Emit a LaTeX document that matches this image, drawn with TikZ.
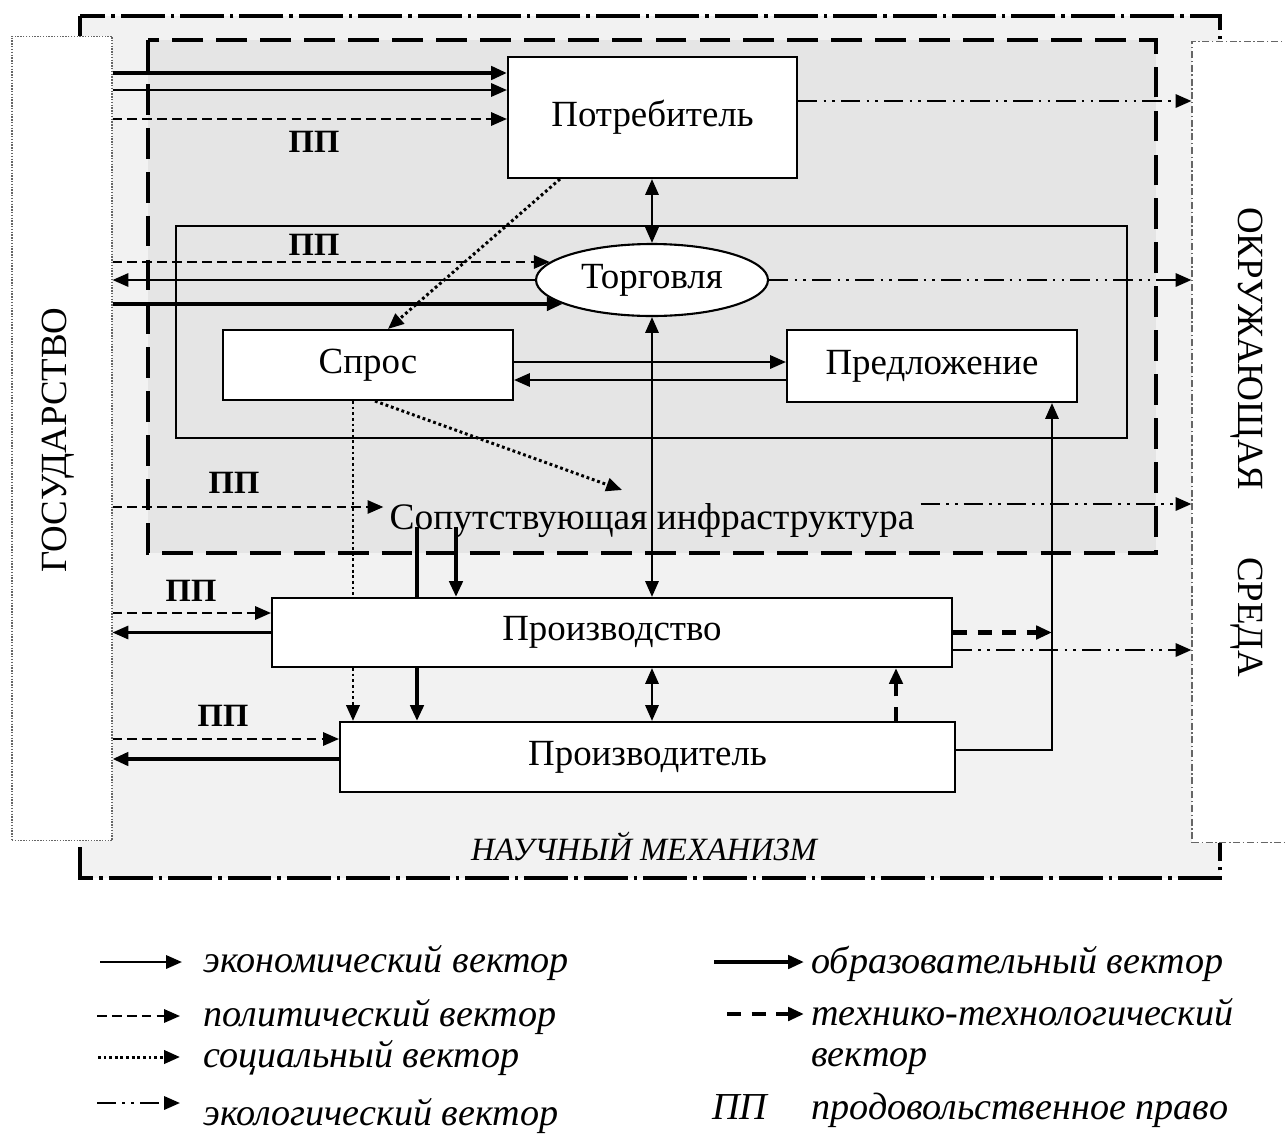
\documentclass[tikz,border=0pt]{standalone}
\usepackage{fontspec}
\setmainfont{Liberation Serif}
\usetikzlibrary{arrows.meta}
\usetikzlibrary{shapes.geometric}

\begin{document}
\begin{tikzpicture}[x=0.02cm,y=-0.02cm,>={Triangle[length=9pt,width=7.5pt]}]
	\tikzset{
		blok/.style={draw,line width=1.2pt,fill=white,font=\fontsize{21}{25}\selectfont},
		side/.style={draw=gray!80!black,line width=0.6pt,fill=white},
		pp/.style={font=\bfseries\fontsize{18.5}{22}\selectfont,inner sep=0pt},
		leg/.style={font=\itshape\fontsize{21.7}{26}\selectfont,inner sep=0pt},
		mech/.style={fill=black!5,line width=2.3pt,dash pattern=on 25pt off 3.4pt on 2pt off 3.4pt},
		zona/.style={fill=black!10,line width=2.3pt,dash pattern=on 17.5pt off 7.5pt},
		rynok/.style={fill=black!10,line width=1.2pt},
		econ/.style={line width=1.4pt},
		edu/.style={line width=2.2pt},
		polit/.style={line width=1.3pt,dash pattern=on 5.5pt off 3pt},
		soc/.style={line width=1.7pt,dash pattern=on 1.6pt off 1.6pt},
		eco/.style={line width=1.4pt,dash pattern=on 11pt off 3.5pt on 1.5pt off 3.5pt on 1.5pt off 3.5pt},
		tech/.style={line width=2.4pt,dash pattern=on 8pt off 6pt}
	}
	\useasboundingbox (0,0) rectangle (1285,1133);

	% области
	\draw[mech] (80,16) rectangle (1220,878);
	\draw[zona] (148,40) rectangle (1156,553);
	\draw[rynok] (176,226) rectangle (1127,438);
	\node[font=\itshape\fontsize{18.5}{22}\selectfont] (nauka) at (644,846) {НАУЧНЫЙ МЕХАНИЗМ};

	\node[side,dash pattern=on 0.8pt off 0.8pt,minimum width=2cm,minimum height=16.1cm] (gos) at (62,438.5) {};
	\node[rotate=90,font=\fontsize{21}{25}\selectfont] (gostext) at (58,440) {ГОСУДАРСТВО};
	\node[side,dash pattern=on 4pt off 1.5pt on 0.8pt off 1.5pt,minimum width=2.16cm,minimum height=16.04cm] (okr) at (1246,442) {};
	\node[rotate=-90,font=\fontsize{21}{25}\selectfont] (okrtext) at (1247,442) {ОКРУЖАЮЩАЯ\hspace{1.34cm}СРЕДА};

	% звенья
	\node[blok,minimum width=5.78cm,minimum height=2.42cm] (potr) at (652.5,117.5) {Потребитель};
	\node[blok,ellipse,inner sep=0pt,minimum width=4.64cm,minimum height=1.44cm] (torg) at (652,280) {Торговля};
	\node[blok,minimum width=5.8cm,minimum height=1.4cm] (spros) at (368,365) {Спрос};
	\node[blok,minimum width=5.8cm,minimum height=1.44cm] (predl) at (932,366) {Предложение};
	\node[font=\fontsize{21.3}{25}\selectfont,anchor=base] (infra) at (652,529) {Сопутствующая инфраструктура};
	\node[blok,minimum width=13.6cm,minimum height=1.38cm] (pvo) at (612,632.5) {Производство};
	\node[blok,minimum width=12.3cm,minimum height=1.4cm] (pvl) at (647.5,757) {Производитель};

	\node[pp] (pp1) at (314,142) {ПП};
	\node[pp] (pp2) at (314,245) {ПП};
	\node[pp] (pp3) at (234,483) {ПП};
	\node[pp] (pp4) at (191,591) {ПП};
	\node[pp] (pp5) at (223,716) {ПП};

	% государство
	\draw[edu,->] (gos.east |- 0,73) -- (potr.west |- 0,73);
	\draw[econ,->] (gos.east |- 0,90) -- (potr.west |- 0,90);
	\draw[polit,->] (gos.east |- 0,119) -- (potr.west |- 0,119);
	\draw[polit,->] (gos.east |- torg.170) -- (torg.170);
	\draw[econ,->] (torg.west) -- (gos.east |- torg.west);
	\draw[edu,->] (gos.east |- torg.195) -- (torg.195);
	\draw[polit,->] (gos.east |- 0,507) -- (infra.west |- 0,507);
	\draw[polit,->] (gos.east |- 0,613) -- (pvo.west |- 0,613);
	\draw[econ,->] (pvo.west) -- (gos.east |- pvo.west);
	\draw[polit,->] (gos.east |- 0,739) -- (pvl.west |- 0,739);
	\draw[edu,->] (pvl.west |- 0,759) -- (gos.east |- 0,759);

	% окружающая среда
	\draw[eco,->] (potr.east |- 0,101) -- (okr.west |- 0,101);
	\draw[eco,->] (torg.east) -- (okr.west |- torg.east);
	\draw[eco,->] (infra.east |- 0,504) -- (okr.west |- 0,504);
	\draw[eco,->] (pvo.east |- 0,650) -- (okr.west |- 0,650);

	% внутренние связи
	\draw[econ,<->] (torg.north |- potr.south) -- (torg.north);
	\draw[econ,<->] (torg.south) -- (torg.south |- pvo.north);
	\draw[econ,<->] (torg |- pvo.south) -- (torg |- pvl.north);
	\draw[econ,->] (spros.east |- 0,362) -- (predl.west |- 0,362);
	\draw[econ,->] (predl.west |- 0,380) -- (spros.east |- 0,380);

	\coordinate (infratop) at (622,490);
	\draw[soc,->] (potr.south -| 560,0) -- (spros.north -| 388,0);
	\draw[soc,->] (spros.south -| 375,0) -- (infratop);
	\draw[soc] (spros.south -| 353,0) -- (pvo.north -| 353,0);
	\draw[soc,->] (pvo.south -| 353,0) -- (pvl.north -| 353,0);

	\coordinate (infr1) at (417,527);
	\coordinate (infr2) at (456,527);
	\draw[edu] (infr1) -- (infr1 |- pvo.north);
	\draw[edu,->] (infr2) -- (infr2 |- pvo.north);
	\draw[edu,->] (pvo.south -| 417,0) -- (pvl.north -| 417,0);
	\draw[tech,->] (pvl.north -| 896,0) -- (pvo.south -| 896,0);
	\draw[tech,->] (pvo.east) -- (pvo.east -| 1052,0);
	\draw[econ,->] (pvl.east |- 0,750) -| (predl.south -| 1052,0);

	% легенда
	\node[leg,anchor=base west] (lecon) at (203,972) {экономический вектор};
	\node[leg,anchor=base west] (lpol) at (203,1026) {политический вектор};
	\node[leg,anchor=base west] (lsoc) at (203,1067) {социальный вектор};
	\node[leg,anchor=base west] (leco) at (203,1125) {экологический вектор};
	\node[leg,anchor=base west] (ledu) at (811,973) {образовательный вектор};
	\node[leg,anchor=base west] (ltech) at (811,1025) {технико-технологический};
	\node[leg,anchor=base west] (ltech2) at (811,1066) {вектор};
	\node[leg,anchor=base west] (lpp) at (712,1119) {ПП};
	\node[leg,anchor=base west] (lpravo) at (811,1119) {продовольственное право};
	\foreach \sty/\xa/\xb/\yy [count=\i] in {econ/100/182/962,polit/97/180/1016,soc/98/180/1057,eco/97/180/1103,edu/714/804/962,tech/727/804/1014}
	{
		\coordinate (ka\i) at (\xa,\yy);
		\coordinate (kb\i) at (\xb,\yy);
		\draw[\sty,->] (ka\i) -- (kb\i);
	}
\end{tikzpicture}
\end{document}
